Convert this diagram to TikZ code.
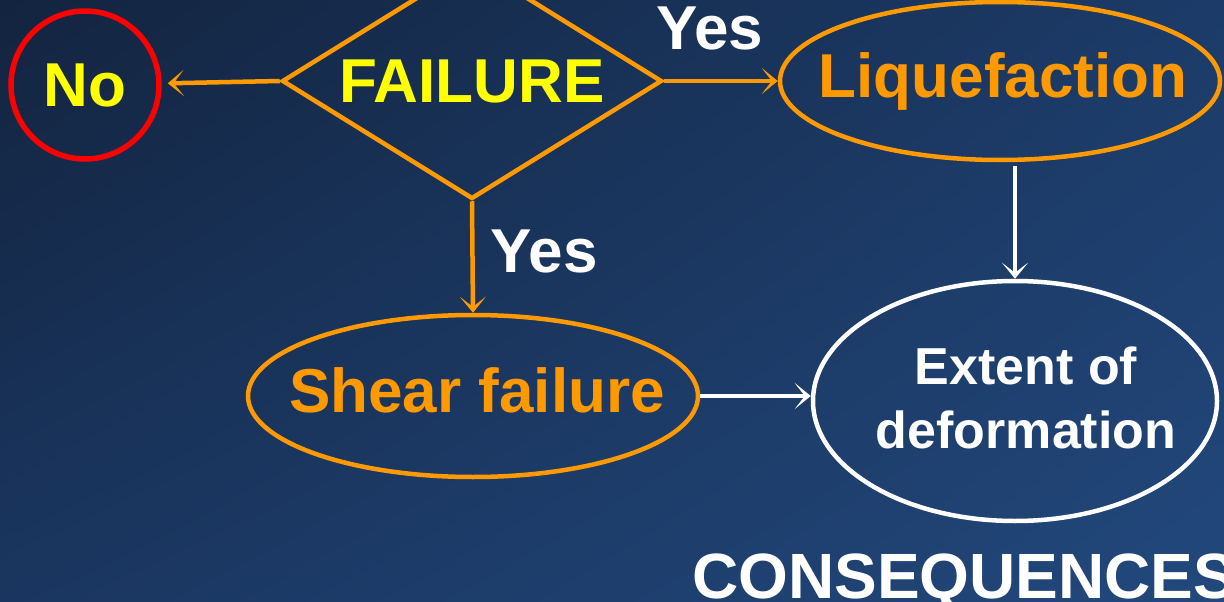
\documentclass[tikz,border=0pt]{standalone}
\usepackage{fontspec}
\setmainfont{Liberation Sans}
\usetikzlibrary{shapes.geometric,arrows.meta,shadings}

\definecolor{bgA}{HTML}{13243F}
\definecolor{bgB}{HTML}{1C3B68}
\definecolor{bgC}{HTML}{1A3660}
\definecolor{bgD}{HTML}{22487C}
\definecolor{flow}{HTML}{FF9900}
\definecolor{failred}{HTML}{FF0000}
\definecolor{failyellow}{HTML}{FFFF00}

\begin{document}
\begin{tikzpicture}[x=1pt,y=-1pt,
  >={Stealth[length=16pt,width=26pt,inset=10pt]},
  big/.style={font=\fontsize{62}{64}\selectfont\bfseries},
  small/.style={font=\fontsize{52}{64}\selectfont\bfseries},
  orangeline/.style={draw=flow,line width=4.5pt},
  whiteline/.style={draw=white,line width=4.5pt}]
\useasboundingbox (0,0) rectangle (1224,602);
\shade[upper left=bgA,upper right=bgB,lower left=bgC,lower right=bgD] (0,0) rectangle (1224,602);

\path (85,85) node[circle,draw=failred,line width=5.5pt,minimum size=148pt,inner sep=0pt,big,text=failyellow] (no) {No};
\path (472,81) node[diamond,orangeline,aspect=1.6,minimum width=380pt,minimum height=236pt,inner sep=0pt,big,text=failyellow] (fail) {FAILURE};
\path (1000,81) node[ellipse,orangeline,minimum width=440pt,minimum height=158pt,inner sep=0pt,
  label={[big,text=flow,xshift=3pt]center:Liquefaction}] (liq) {};
\path (473,396) node[ellipse,orangeline,minimum width=450pt,minimum height=162pt,inner sep=0pt,
  label={[big,text=flow,xshift=4pt,yshift=6pt]center:Shear failure}] (shear) {};
\path (1015,401) node[ellipse,whiteline,minimum width=404pt,minimum height=240pt,inner sep=0pt,
  label={[small,text=white,align=center,xshift=11pt,yshift=3pt]center:Extent of\\deformation}] (extent) {};
\path (692,598) node[anchor=base west,inner sep=0pt,font=\fontsize{64}{66}\selectfont\bfseries,text=white] (cons) {CONSEQUENCES};

\draw[orangeline,->,shorten >=6pt] (fail.west) -- (no);
\draw[orangeline,->] (fail.east) -- node[pos=0.4,above=29pt,inner sep=0pt,big,text=white]{Yes} (liq);
\draw[orangeline,->] (fail.south) -- node[pos=0.45,right=16pt,inner sep=0pt,big,text=white]{Yes} (shear.north);
\draw[whiteline,->,shorten <=4pt] (liq.south -| extent.north) -- (extent.north);
\draw[whiteline,->] (shear.east) -- (shear.east -| extent.west);
\end{tikzpicture}
\end{document}
